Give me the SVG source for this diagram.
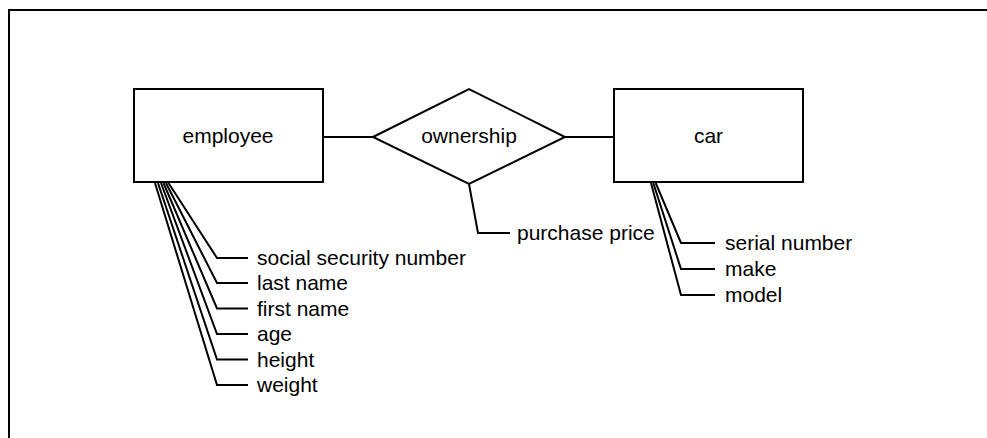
<svg xmlns="http://www.w3.org/2000/svg" width="987" height="438" viewBox="0 0 987 438">
<style>
.shape{fill:#fff;stroke:#000;stroke-width:2}
.ln{fill:none;stroke:#000;stroke-width:2;stroke-linejoin:miter}
.t{font-family:"Liberation Sans",Arial,sans-serif;font-size:21px;fill:#000}
.c{text-anchor:middle}
</style>
<rect width="987" height="438" fill="#fff"/>
<path class="ln" d="M9,438 V10 H987"/>
<g id="connectors">
<line class="ln" x1="323" y1="137" x2="373" y2="137"/>
<line class="ln" x1="565" y1="137" x2="614" y2="137"/>
<polyline class="ln" points="469,184 478,233 510,233"/>
<polyline class="ln" points="168.5,183 217,258 248,258"/>
<polyline class="ln" points="166,183 217,283 248,283"/>
<polyline class="ln" points="163.5,183 217,308.5 248,308.5"/>
<polyline class="ln" points="161,183 217,334 248,334"/>
<polyline class="ln" points="158,183 217,359.5 248,359.5"/>
<polyline class="ln" points="155,183 217,385 248,385"/>
<polyline class="ln" points="655.7,183 681,243 715,243"/>
<polyline class="ln" points="653.3,183 681,269 715,269"/>
<polyline class="ln" points="651,183 681,295 715,295"/>
</g>
<g id="employee">
<rect class="shape" x="134" y="89" width="189" height="93"/>
<text class="t c" x="228" y="143">employee</text>
</g>
<g id="ownership">
<polygon class="shape" points="373,137 469,89 565,137 469,184"/>
<text class="t c" x="469" y="143">ownership</text>
</g>
<g id="car">
<rect class="shape" x="614" y="89" width="189" height="93"/>
<text class="t c" x="708.5" y="143">car</text>
</g>
<g id="purchase-price"><text class="t" x="517" y="240">purchase price</text></g>
<g id="social-security-number"><text class="t" x="257" y="265">social security number</text></g>
<g id="last-name"><text class="t" x="257" y="290">last name</text></g>
<g id="first-name"><text class="t" x="257" y="315.5">first name</text></g>
<g id="age"><text class="t" x="257" y="341">age</text></g>
<g id="height"><text class="t" x="257" y="366.5">height</text></g>
<g id="weight"><text class="t" x="257" y="392">weight</text></g>
<g id="serial-number"><text class="t" x="725" y="250">serial number</text></g>
<g id="make"><text class="t" x="725" y="276">make</text></g>
<g id="model"><text class="t" x="725" y="302">model</text></g>
</svg>
